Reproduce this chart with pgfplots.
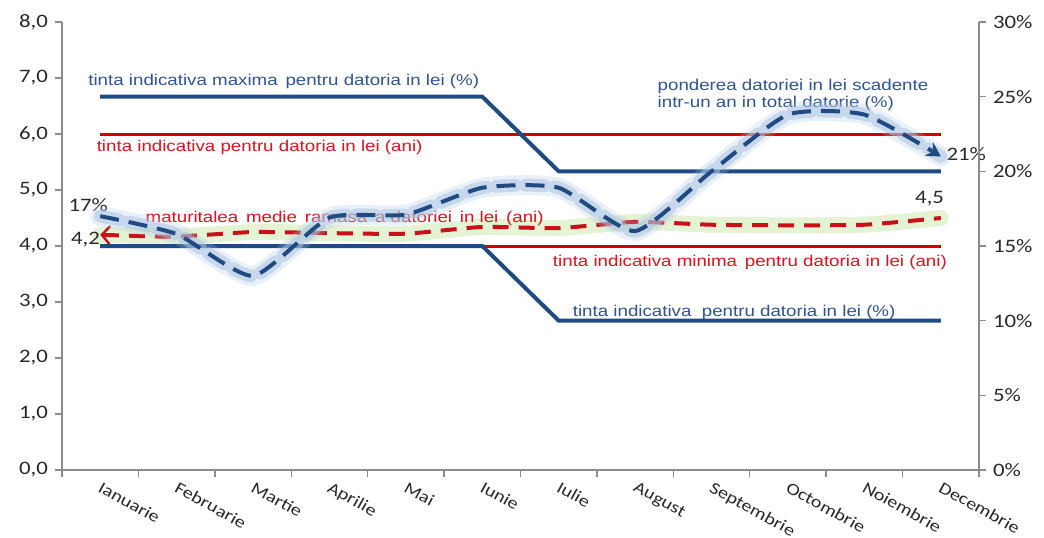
\documentclass[border=0pt]{standalone}
\usepackage{pgfplots}
\pgfplotsset{compat=1.18}
\usetikzlibrary{arrows.meta}
\usepackage{fontspec}
\setmainfont{Liberation Sans}[FakeStretch=1.2]
\newfontfamily\tickfont{Carlito}[FakeStretch=1.2]

\definecolor{lineblue}{RGB}{31,74,130}
\definecolor{textblue}{RGB}{46,84,148}
\definecolor{glowblue}{RGB}{170,196,228}
\definecolor{linered}{RGB}{208,0,0}
\definecolor{textred}{RGB}{226,18,28}
\definecolor{glowgreen}{RGB}{216,238,192}
\definecolor{axisgray}{RGB}{140,140,140}
\definecolor{ticktext}{RGB}{40,40,40}

\pgfplotsset{
  base/.style={
    scale only axis, width=458.5pt, height=224pt,
    xmin=-0.5, xmax=11.5,
    tick align=outside,
    major tick length=3.5pt, minor tick length=3.5pt,
    every tick/.style={axisgray, line width=0.7pt},
    axis line style={axisgray, line width=0.8pt},
    tick label style={font=\tickfont\fontsize{9.5}{11}\selectfont, text=ticktext},
    clip=false,
  },
}
\tikzset{
  bluedash/.style={lineblue, line width=2pt, dash pattern=on 9.5pt off 5pt},
  bluehalo/.style={glowblue, line width=6.5pt, opacity=0.55, line cap=round, dash pattern=on 9.5pt off 5pt},
  bluehaze/.style={glowblue, line width=10pt, opacity=0.25, line cap=round},
  note/.style={anchor=west, inner sep=0pt, font=\fontsize{7.8}{9}\selectfont},
  num/.style={inner sep=0pt, text=ticktext, font=\tickfont\fontsize{9.5}{11}\selectfont},
}

\begin{document}
\begin{tikzpicture}
% left axis: maturities in years
\begin{axis}[base, name=main,
  ymin=0, ymax=8,
  axis x line*=bottom, axis y line*=left,
  xtick={0,...,11},
  xticklabels={Ianuarie,Februarie,Martie,Aprilie,Mai,Iunie,Iulie,August,Septembrie,Octombrie,Noiembrie,Decembrie},
  major x tick style={draw=none},
  minor xtick={-0.5,0.5,...,11.5},
  xticklabel style={xshift=1pt, yshift=-1pt, rotate=-29, anchor=north west, inner sep=0.5pt,
    font=\tickfont\fontsize{8.4}{10}\selectfont},
  ytick={0,1,...,8},
  yticklabels={{0,0},{1,0},{2,0},{3,0},{4,0},{5,0},{6,0},{7,0},{8,0}},
]
% glow under the average remaining maturity
\addplot[glowgreen, line width=8pt, opacity=0.7, smooth, tension=0.35, line cap=round] coordinates {
  (0,4.20) (1,4.17) (2,4.25) (3,4.23) (4,4.22) (5,4.34)
  (6,4.32) (7,4.43) (8,4.38) (9,4.37) (10,4.38) (11,4.50)};
% indicative targets in years
\addplot[linered, line width=1.5pt] coordinates {(0,6) (11,6)};
\addplot[linered, line width=1.5pt] coordinates {(0,4) (11,4)};
% average remaining maturity of lei debt (years)
\addplot[textred!90!black, line width=2pt, dash pattern=on 8pt off 5pt, smooth, tension=0.35,
  {Straight Barb[length=4pt,width=9pt,line width=1.2pt]}-] coordinates {
  (0,4.20) (1,4.17) (2,4.25) (3,4.23) (4,4.22) (5,4.34)
  (6,4.32) (7,4.43) (8,4.38) (9,4.37) (10,4.38) (11,4.50)};

\node[note, textblue] at (axis cs:-0.16,6.93) {tinta indicativa maxima\ \,pentru datoria in lei (\%)};
\node[note, textred] at (axis cs:-0.05,5.76) {tinta indicativa pentru datoria in lei (ani)};
\node[note, textred] at (axis cs:0.59,4.50) {maturitalea\ \,medie\ \,ramasa\ \,a datoriei\ \,in lei\ \,(ani)};
\node[note, textred] at (axis cs:5.92,3.71) {tinta indicativa minima\ \,pentru datoria in lei (ani)};
\node[note, textblue] at (axis cs:6.18,2.82) {tinta indicativa\ \ pentru datoria in lei (\%)};
\node[note, textblue, font=\fontsize{7.8}{7}\selectfont, align=left] at (axis cs:7.29,6.70) {ponderea datoriei in lei scadente\\intr-un an in total datorie (\%)};
\node[num, anchor=west] at (axis cs:-0.42,4.73) {17\%};
\node[num, anchor=east] at (axis cs:0.0,4.11) {4,2};
\node[num, anchor=west] at (axis cs:10.66,4.84) {4,5};
\node[num, anchor=west] at (axis cs:11.07,5.64) {21\%};
\end{axis}

% right axis: shares in percent
\begin{axis}[base,
  ymin=0, ymax=30,
  axis x line=none, axis y line*=right,
  ytick={0,5,...,30},
  yticklabels={0\%,5\%,10\%,15\%,20\%,25\%,30\%},
]
% indicative targets in percent
\addplot[lineblue, line width=2pt] coordinates {(0,25) (5,25) (6,20) (11,20)};
\addplot[lineblue, line width=2pt] coordinates {(0,15) (5,15) (6,10) (11,10)};
% share of lei debt maturing within one year
\addplot[bluehaze, smooth, tension=0.35] coordinates {
  (0,17) (1,15.8) (2,13) (3,16.9) (4,17.1) (5,18.9)
  (6,18.9) (7,16) (8,20) (9,23.8) (10,23.8) (11,21)};
\addplot[bluehalo, smooth, tension=0.35] coordinates {
  (0,17) (1,15.8) (2,13) (3,16.9) (4,17.1) (5,18.9)
  (6,18.9) (7,16) (8,20) (9,23.8) (10,23.8) (11,21)};
\addplot[bluedash, smooth, tension=0.35, -{Stealth[length=7pt,width=8pt]}] coordinates {
  (0,17) (1,15.8) (2,13) (3,16.9) (4,17.1) (5,18.9)
  (6,18.9) (7,16) (8,20) (9,23.8) (10,23.8) (11,21)};
\end{axis}

\pgfresetboundingbox
\path[use as bounding box] ([xshift=-31pt, yshift=-33.5pt]main.south west) rectangle ([xshift=32.5pt, yshift=11pt]main.north east);
\end{tikzpicture}
\end{document}
